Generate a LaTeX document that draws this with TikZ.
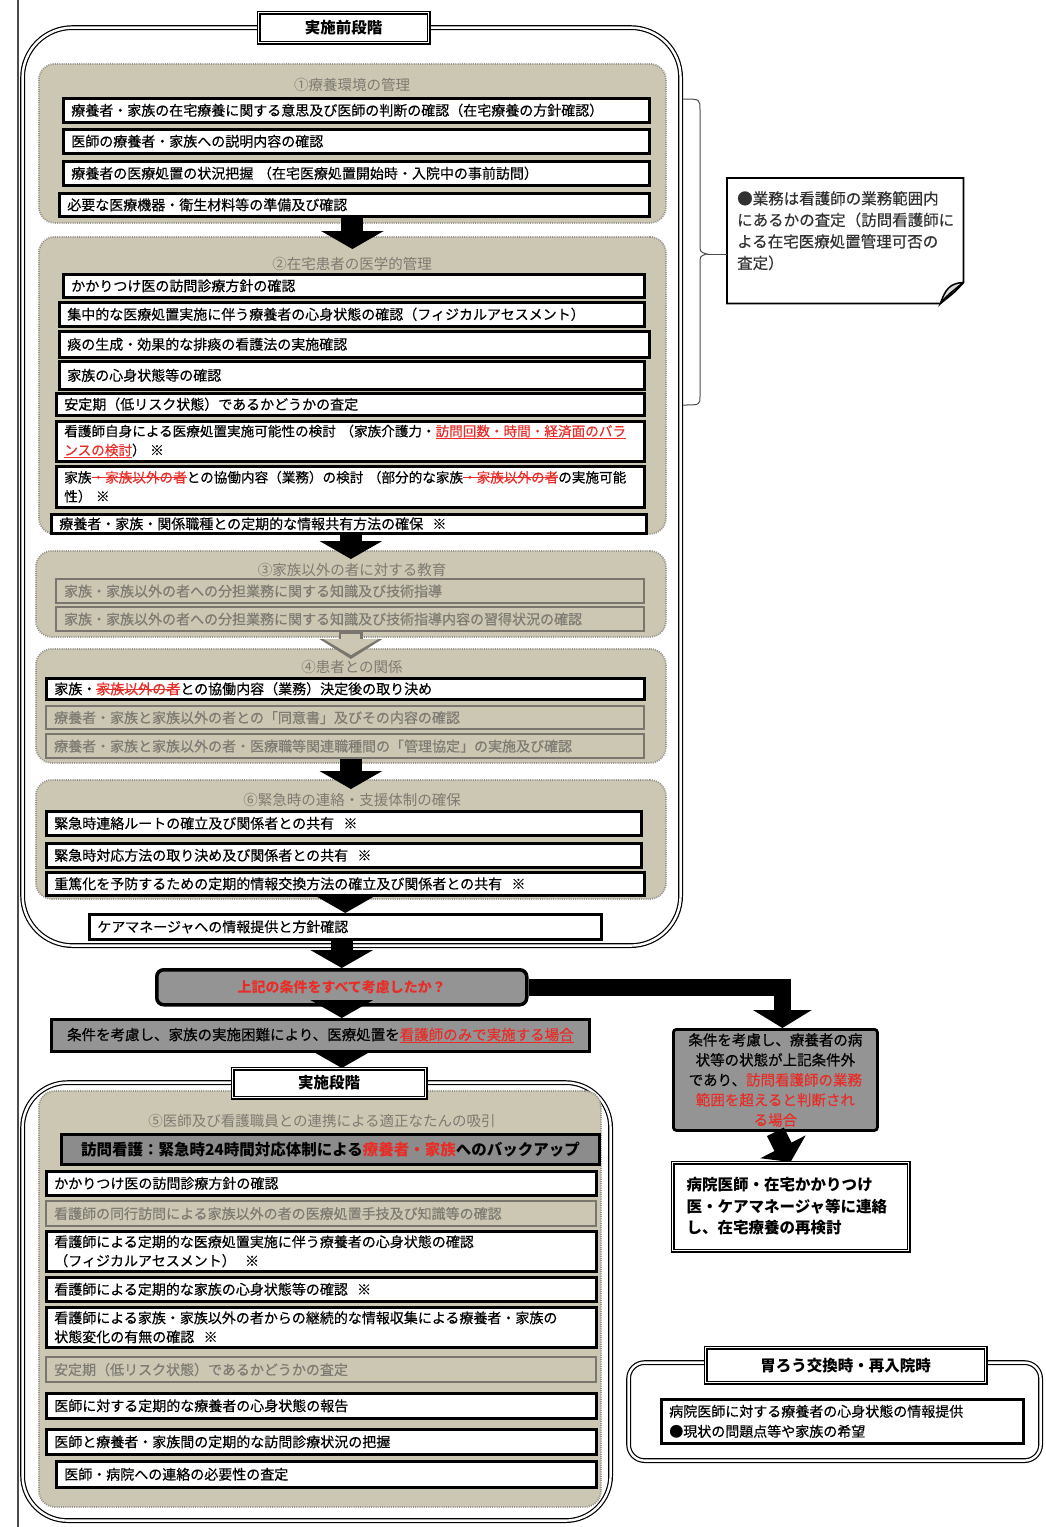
\documentclass[tikz,border=0pt]{standalone}
\usepackage{fontspec}
\newfontfamily\jp{Noto Sans CJK JP}
\newfontfamily\jpm[FakeBold=0.4]{Noto Sans CJK JP}
\usetikzlibrary{arrows.meta,calc}
\definecolor{khaki}{RGB}{203,199,178}
\definecolor{dotc}{RGB}{150,148,140}
\definecolor{grayline}{RGB}{120,118,110}
\definecolor{graytext}{RGB}{125,123,115}
\definecolor{labelc}{RGB}{125,123,115}
\definecolor{decfill}{RGB}{148,148,148}
\definecolor{redc}{RGB}{232,45,40}
\definecolor{notetext}{RGB}{50,50,50}
\newsavebox\mybox
\newcommand\rstrike[1]{\sbox\mybox{\textcolor{redc}{#1}}\usebox\mybox\llap{\textcolor{redc}{\rule[0.32em]{\wd\mybox}{1pt}}}}
\newcommand\rline[1]{\sbox\mybox{\textcolor{redc}{#1}}\usebox\mybox\llap{\textcolor{redc}{\rule[-0.2em]{\wd\mybox}{0.9pt}}}}
\newcommand\rowfs{\fontsize{14}{19}\selectfont}
\newcommand\bx[7]{%
  \pgfmathsetlengthmacro\bxw{(#5-#3)*1pt}%
  \pgfmathsetlengthmacro\bxtw{(#5-#3)*1pt-16pt}%
  \pgfmathsetlengthmacro\bxh{(#6-#4)*1pt}%
  \node[#1, minimum width=\bxw, text width=\bxtw, minimum height=\bxh, anchor=north west] (#2) at (#3,#4) {#7};}
\begin{document}
\begin{tikzpicture}[x=1pt,y=-1pt,
 wrow/.style={draw=black, line width=2.6pt, fill=white, inner xsep=8pt, inner ysep=0pt, align=left, font=\jpm\rowfs},
 grayrow/.style={draw=grayline, line width=2.2pt, fill=khaki, text=graytext, inner xsep=8pt, inner ysep=0pt, align=left, font=\jpm\rowfs},
 sect/.style={draw=dotc, line width=1.8pt, dash pattern=on 1pt off 1.2pt, fill=khaki, rounded corners=16pt, inner xsep=8pt, inner ysep=0pt},
 seclabel/.style={text=labelc, font=\jp\fontsize{14.5}{17}\selectfont, inner sep=0pt},
 outerframe/.style={draw=black, double=white, double distance=2.4pt, line width=1.2pt, rounded corners=50pt, inner xsep=8pt, inner ysep=0pt},
 titlebox/.style={draw=black, double=white, double distance=1.6pt, line width=1.2pt, fill=white, font=\jp\bfseries\fontsize{15.5}{18}\selectfont, inner xsep=8pt, inner ysep=0pt, align=center},
 blk/.style={line width=22pt, -{Triangle[width=62pt,length=18pt]}},
 graybox/.style={draw=black, line width=2.8pt, fill=decfill, inner xsep=8pt, inner ysep=0pt, align=center},
 notebox/.style={draw=none, inner xsep=8pt, inner ysep=0pt},
]
\fill[white] (0,0) rectangle (1046,1527);
\useasboundingbox (0,0) rectangle (1046,1527);
\draw[line width=1.2pt, black!70] (18,0) -- (18,1527);

% ---------- pre-implementation stage ----------
\bx{outerframe}{frA}{22}{27}{680}{945}{}
\bx{titlebox}{tA}{258}{12}{428}{42}{実施前段階}

\bx{sect}{s1}{38}{63}{665}{222}{}
\node[seclabel] (l1) at (352,85) {①療養環境の管理};
\bx{wrow}{r1}{62}{97}{648}{121}{療養者・家族の在宅療養に関する意思及び医師の判断の確認（在宅療養の方針確認）}
\bx{wrow}{r2}{62}{128}{648}{152}{医師の療養者・家族への説明内容の確認}
\bx{wrow}{r3}{62}{160}{648}{184}{療養者の医療処置の状況把握~（在宅医療処置開始時・入院中の事前訪問）}
\bx{wrow}{r4}{58}{192}{648}{215}{必要な医療機器・衛生材料等の準備及び確認}

\bx{sect}{s2}{38}{236}{665}{533}{}
\node[seclabel] (l2) at (352,264) {②在宅患者の医学的管理};
\bx{wrow}{a1}{62}{273}{643}{296}{かかりつけ医の訪問診療方針の確認}
\bx{wrow}{a2}{58}{301}{643}{325}{集中的な医療処置実施に伴う療養者の心身状態の確認（フィジカルアセスメント）}
\bx{wrow}{a3}{58}{330}{648}{356}{痰の生成・効果的な排痰の看護法の実施確認}
\bx{wrow}{a4}{58}{360}{643}{388}{家族の心身状態等の確認}
\bx{wrow}{a5}{55}{392}{643}{414}{安定期（低リスク状態）であるかどうかの査定}
\bx{wrow, font=\jpm\fontsize{13.6}{19}\selectfont}{a6}{55}{420}{643}{460}{看護師自身による医療処置実施可能性の検討~（家族介護力・\rline{訪問回数・時間・経済面のバラ}\\\rline{ンスの検討}）~※}
\bx{wrow, font=\jpm\fontsize{13.6}{19}\selectfont}{a7}{55}{465}{643}{506}{家族\rstrike{・家族以外の者}との協働内容（業務）の検討~（部分的な家族\rstrike{・家族以外の者}の実施可能\\性）~※}
\bx{wrow}{a8}{50}{513}{645}{532}{療養者・家族・関係職種との定期的な情報共有方法の確保~~※}

\bx{sect}{s3}{35}{550}{665}{636}{}
\node[seclabel] (l3) at (352,570) {③家族以外の者に対する教育};
\bx{grayrow}{b1}{55}{578}{643}{602}{家族・家族以外の者への分担業務に関する知識及び技術指導}
\bx{grayrow}{b2}{55}{606}{643}{630}{家族・家族以外の者への分担業務に関する知識及び技術指導内容の習得状況の確認}

\bx{sect}{s4}{35}{648}{665}{762}{}
\node[seclabel] (l4) at (352,667) {④患者との関係};
\bx{wrow}{c1}{45}{677}{643}{698}{家族・\rstrike{家族以外の者}との協働内容（業務）決定後の取り決め}
\bx{grayrow}{c2}{45}{705}{643}{728}{療養者・家族と家族以外の者との「同意書」及びその内容の確認}
\bx{grayrow}{c3}{45}{733}{643}{757}{療養者・家族と家族以外の者・医療職等関連職種間の「管理協定」の実施及び確認}

\bx{sect}{s6}{35}{779}{665}{898}{}
\node[seclabel] (l6) at (352,800) {⑥緊急時の連絡・支援体制の確保};
\bx{wrow}{d1}{45}{810}{640}{834}{緊急時連絡ルートの確立及び関係者との共有~~※}
\bx{wrow}{d2}{45}{842}{640}{866}{緊急時対応方法の取り決め及び関係者との共有~~※}
\bx{wrow}{d3}{45}{871}{643}{894}{重篤化を予防するための定期的情報交換方法の確立及び関係者との共有~~※}
\bx{wrow}{e}{88}{913}{600}{938}{ケアマネージャへの情報提供と方針確認}

% note and brace
\bx{notebox}{note}{727}{178}{963}{303}{}
\draw[line width=1.8pt, fill=white] (note.north west) -- (note.north east) -- ($(note.south east)+(0,-21)$)
  .. controls ($(note.south east)+(-8,-12)$) .. ($(note.south east)+(-23,0)$) -- (note.south west) -- cycle;
\draw[line width=1.5pt, fill=black!15] ($(note.south east)+(0,-21)$) .. controls ($(note.south east)+(-14,-20)$) and ($(note.south east)+(-18,-14)$) .. ($(note.south east)+(-23,0)$)
  .. controls ($(note.south east)+(-16,-8)$) .. ($(note.south east)+(0,-21)$);
\node[anchor=north west, inner sep=0pt, align=left, text=notetext, font=\jpm\fontsize{15.5}{21.5}\selectfont] (notet) at (737,191)
  {●業務は看護師の業務範囲内\\にあるかの査定（訪問看護師に\\よる在宅医療処置管理可否の\\査定）};
\coordinate (bt) at (707,254);
\draw[line width=1pt, black!70] (683,99) .. controls (700,99) .. (700,110) -- (700,244) .. controls (700,252) .. (bt)
  .. controls (700,256) .. (700,264) -- (700,396) .. controls (700,405) .. (683,405);
\draw[line width=1pt, black!70] (bt) -- (bt -| note.west);

% ---------- decision ----------
\bx{graybox, rounded corners=7pt, line width=3.5pt, font=\jp\bfseries\fontsize{14}{17}\selectfont, text=redc}{dec}{155}{968}{525}{1003}{上記の条件をすべて考慮したか？}
\bx{graybox, font=\jpm\fontsize{14.5}{17}\selectfont}{f}{50}{1018}{588}{1050}{条件を考慮し、家族の実施困難により、医療処置を\rline{看護師のみで実施する場合}}
\bx{graybox, rounded corners=3pt, font=\jpm\fontsize{14.5}{20}\selectfont}{g}{672}{1028}{876}{1129}{条件を考慮し、療養者の病\\状等の状態が上記条件外\\であり、{\color{redc}訪問看護師の業務}\\{\color{redc}範囲を超えると判断され}\\{\color{redc}る場合}}
\bx{wrow, double=white, double distance=1.5pt, line width=1.2pt, align=left, font=\jp\bfseries\fontsize{15.5}{21.5}\selectfont, inner xsep=14pt}{h}{672}{1162}{896}{1250}{病院医師・在宅かかりつけ\\医・ケアマネージャ等に連絡\\し、在宅療養の再検討}

% ---------- implementation stage ----------
\bx{outerframe, rounded corners=45pt}{frB}{22}{1082}{610}{1520}{}
\bx{sect}{s5}{38}{1090}{600}{1506}{}
\bx{titlebox}{tB}{232}{1068}{425}{1097}{実施段階}
\node[seclabel] (l5) at (322,1121) {⑤医師及び看護職員との連携による適正なたんの吸引};
\bx{graybox, line width=3pt, fill=black!45, font=\jp\bfseries\fontsize{15.5}{18}\selectfont}{k}{60}{1133}{598}{1163}{訪問看護：緊急時24時間対応体制による{\color{redc}療養者・家族}へのバックアップ}
\bx{wrow}{i1}{45}{1170}{595}{1194}{かかりつけ医の訪問診療方針の確認}
\bx{grayrow}{i2}{45}{1200}{595}{1225}{看護師の同行訪問による家族以外の者の医療処置手技及び知識等の確認}
\bx{wrow}{i3}{45}{1230}{595}{1270}{看護師による定期的な医療処置実施に伴う療養者の心身状態の確認\\（フィジカルアセスメント）~~※}
\bx{wrow}{i4}{45}{1276}{595}{1300}{看護師による定期的な家族の心身状態等の確認~~※}
\bx{wrow}{i5}{45}{1306}{595}{1346}{看護師による家族・家族以外の者からの継続的な情報収集による療養者・家族の\\状態変化の有無の確認~~※}
\bx{grayrow}{i6}{45}{1356}{595}{1381}{安定期（低リスク状態）であるかどうかの査定}
\bx{wrow}{i7}{45}{1392}{595}{1417}{医師に対する定期的な療養者の心身状態の報告}
\bx{wrow}{i8}{45}{1428}{595}{1453}{医師と療養者・家族間の定期的な訪問診療状況の把握}
\bx{wrow}{i9}{55}{1460}{595}{1486}{医師・病院への連絡の必要性の査定}

% ---------- gastrostomy ----------
\bx{outerframe, rounded corners=16pt}{frC}{628}{1362}{1040}{1460}{}
\bx{titlebox}{tC}{705}{1347}{985}{1382}{胃ろう交換時・再入院時}
\bx{wrow, font=\jpm\fontsize{14}{20}\selectfont}{m}{660}{1398}{1022}{1442}{病院医師に対する療養者の心身状態の情報提供\\●現状の問題点等や家族の希望}

% ---------- arrows ----------
\draw[blk] (r4.south -| s2.north) -- ($(s2.north)+(0,13)$);
\draw[blk] (a8.south -| s3.north) -- ($(s3.north)+(0,9)$);
\draw[line width=24pt, grayline, -{Triangle[width=62pt,length=20pt]}] (b2.south -| s4.north) -- ($(s4.north)+(0,11)$);
\draw[line width=19pt, khaki, -{Triangle[width=54pt,length=16pt]}] ($(b2.south -| s4.north)+(0,2)$) -- ($(s4.north)+(0,7)$);
\draw[blk] (c3.south -| s6.north) -- ($(s6.north)+(0,10)$);
\draw[blk] (d3.south -| e.north) -- (e.north);
\draw[blk] (e.south -| dec.north) -- (dec.north);
\draw[blk] (dec.south) -- (dec.south |- f.north);
\draw[blk] (dec.south |- f.south) -- (dec.south |- tB.north);
\draw[line width=17pt, line join=miter, -{Triangle[width=58pt,length=18pt]}] (dec.east) -| ($(g.north)+(7,0)$);
\draw[line width=19pt, -{Triangle[width=50pt,length=17pt]}] (g.south) -- (h.north);
\end{tikzpicture}
\end{document}
